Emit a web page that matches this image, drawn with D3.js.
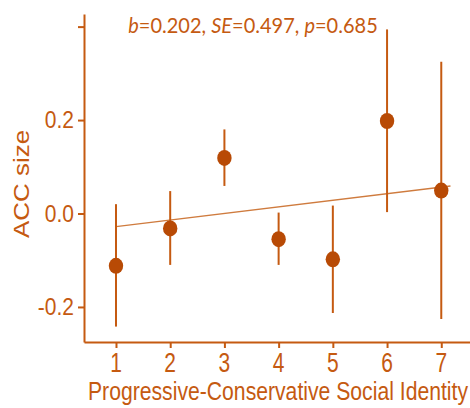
<!DOCTYPE html>
<html><head><meta charset="utf-8">
<script src="https://cdn.jsdelivr.net/npm/d3@7"></script>
<style>body{margin:0;background:#fff}svg{display:block}</style>
</head><body>
<script>
const categories = [1, 2, 3, 4, 5, 6, 7];
const means = [-0.112, -0.032, 0.119, -0.055, -0.098, 0.198, 0.049];
const upper = [0.020, 0.048, 0.180, 0.002, 0.017, 0.394, 0.325];
const lower = [-0.242, -0.110, 0.059, -0.110, -0.213, 0.003, -0.226];
const fitX = [1, 7.17];
const fitY = [-0.028, 0.059];
const yTicks = [-0.2, 0.0, 0.2, 0.4];
const yTickLabels = ["-0.2", "0.0", "0.2", ""];
const xTickLabels = ["1", "2", "3", "4", "5", "6", "7"];
const xTitle = "Progressive-Conservative Social Identity";
const yTitle = "ACC size";

const W = 470, H = 408;
const col = "#c55a11", dot = "#b84a05", fitCol = "#cf7b3e";
const svg = d3.select("body").append("svg").attr("width", W).attr("height", H);

const x = d3.scaleLinear().domain([0.41, 7.53]).range([84, 470]);
const y = d3.scaleLinear().domain([-0.275, 0.427]).range([342, 14]);
const font = "'Liberation Sans', Arial, sans-serif";
const sy = 1.18;

// axes
const xAxis = svg.append("g").attr("transform", `translate(0,${y.range()[0]})`)
  .call(d3.axisBottom(x).tickValues(categories).tickSize(6).tickSizeOuter(0).tickFormat(() => ""));
const yAxis = svg.append("g").attr("transform", `translate(${x.range()[0]},0)`)
  .call(d3.axisLeft(y).tickValues(yTicks).tickSize(6).tickSizeOuter(0).tickFormat(() => ""));
[xAxis, yAxis].forEach(g => {
  g.select(".domain").attr("stroke", col).attr("stroke-width", 2);
  g.selectAll(".tick line").attr("stroke", col).attr("stroke-width", 2);
});

// tick labels
svg.append("g").selectAll("text").data(categories).join("text")
  .attr("transform", d => `translate(${x(d)},${372}) scale(1,${sy * 1.12})`)
  .attr("text-anchor", "middle").attr("font-family", font).attr("font-size", 21)
  .attr("fill", col).text((d, i) => xTickLabels[i]);
svg.append("g").selectAll("text").data(yTicks).join("text")
  .attr("transform", d => `translate(${74},${y(d) + 8}) scale(1,${sy})`)
  .attr("text-anchor", "end").attr("font-family", font).attr("font-size", 21)
  .attr("fill", col).text((d, i) => yTickLabels[i]);

// titles
svg.append("text")
  .attr("transform", `translate(${88},${400}) scale(1,${sy})`)
  .attr("text-anchor", "start").attr("font-family", font).attr("font-size", 22)
  .attr("textLength", 380).attr("lengthAdjust", "spacingAndGlyphs")
  .attr("fill", col).text(xTitle);
svg.append("text")
  .attr("transform", `translate(${29},${184}) rotate(-90) scale(${sy},1)`)
  .attr("text-anchor", "middle").attr("font-family", font).attr("font-size", 22)
  .attr("fill", col).text(yTitle);

// fit line
svg.append("line")
  .attr("x1", x(fitX[0])).attr("y1", y(fitY[0]))
  .attr("x2", x(fitX[1])).attr("y2", y(fitY[1]))
  .attr("stroke", fitCol).attr("stroke-width", 1.4);

// error bars
svg.append("g").selectAll("line").data(categories).join("line")
  .attr("x1", d => x(d)).attr("x2", d => x(d))
  .attr("y1", (d, i) => y(upper[i])).attr("y2", (d, i) => y(lower[i]))
  .attr("stroke", col).attr("stroke-width", 2);

// points
svg.append("g").selectAll("ellipse").data(categories).join("ellipse")
  .attr("cx", d => x(d)).attr("cy", (d, i) => y(means[i]))
  .attr("rx", 7.2).attr("ry", 8).attr("fill", dot);

// annotation
const ann = svg.append("text")
  .attr("transform", `translate(${253},${33}) scale(1,1.1)`)
  .attr("text-anchor", "middle").attr("font-family", "Lato, 'Open Sans', sans-serif")
  .attr("font-size", 20).attr("fill", col);
[["b", true], ["=0.202, ", false], ["SE", true], ["=0.497, ", false], ["p", true], ["=0.685", false]]
  .forEach(([t, it]) => ann.append("tspan").attr("font-style", it ? "italic" : "normal").text(t));
</script>
</body></html>
